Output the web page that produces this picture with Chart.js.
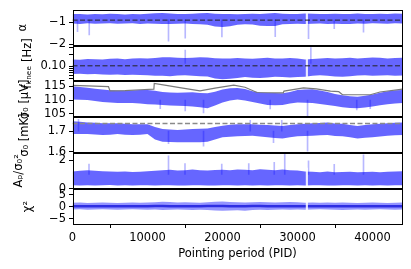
<!DOCTYPE html>
<html><head><meta charset="utf-8">
<script src="https://cdn.jsdelivr.net/npm/chart.js@4.4.1/dist/chart.umd.min.js"></script>
<style>html,body{margin:0;padding:0;background:#fff;}</style>
</head><body>
<canvas id="c" width="411" height="269"></canvas>
<script>
// ---------- data ----------
const pid = [0,1000,2000,3000,4000,5000,6000,7000,8000,9000,10000,11000,12000,13000,14000,15000,16000,17000,18000,19000,20000,21000,22000,23000,24000,25000,26000,27000,28000,29000,30000,31000,32000,33000,34000,35000,36000,37000,38000,39000,40000,41000,42000,43000,44000];
const xMax = 44000;
const xTicks = [0,10000,20000,30000,40000];

// alpha
const alphaHi = [-0.64,-0.63,-0.66,-0.63,-0.65,-0.62,-0.64,-0.66,-0.63,-0.65,-0.62,-0.60,-0.59,-0.61,-0.63,-0.64,-0.62,-0.60,-0.59,-0.62,-0.64,-0.63,-0.65,-0.63,-0.62,-0.64,-0.61,-0.59,-0.62,-0.64,-0.63,-0.61,-0.62,-0.64,-0.63,-0.62,-0.64,-0.63,-0.61,-0.63,-0.64,-0.62,-0.63,-0.61,-0.62];
const alphaLo = [-1.06,-1.08,-1.05,-1.07,-1.06,-1.05,-1.07,-1.06,-1.05,-1.08,-1.06,-1.07,-1.09,-1.08,-1.07,-1.06,-1.08,-1.10,-1.12,-1.20,-1.22,-1.19,-1.12,-1.10,-1.11,-1.16,-1.18,-1.17,-1.10,-1.08,-1.07,-1.09,-1.07,-1.06,-1.08,-1.07,-1.09,-1.08,-1.06,-1.07,-1.05,-1.06,-1.07,-1.05,-1.06];
const alphaSpikes = [[670,-1.43],[2230,-1.58],[12800,-1.86],[15030,-1.72],[19920,-1.67],[27030,-1.66],[31470,-1.74],[34900,-1.29],[38800,-1.45]];
const alphaSpikeBase = -0.9;
const alphaRef = -0.91;
const alphaTicks = [-1,-2];

// f_knee
const fkHi = [0.150,0.148,0.155,0.152,0.150,0.156,0.158,0.153,0.160,0.162,0.158,0.163,0.170,0.172,0.165,0.163,0.166,0.172,0.168,0.162,0.160,0.158,0.163,0.160,0.157,0.162,0.165,0.160,0.158,0.163,0.160,0.150,0.155,0.160,0.163,0.158,0.162,0.165,0.160,0.163,0.168,0.165,0.160,0.163,0.166];
const fkLo = [0.065,0.066,0.064,0.065,0.063,0.062,0.063,0.061,0.062,0.061,0.060,0.058,0.058,0.057,0.059,0.060,0.058,0.057,0.056,0.050,0.048,0.049,0.051,0.054,0.052,0.051,0.053,0.055,0.054,0.053,0.054,0.055,0.058,0.060,0.058,0.056,0.055,0.057,0.059,0.060,0.058,0.059,0.060,0.058,0.059];
const fkSpikes = [[15030,0.26],[31780,0.30]];
const fkSpikeBase = 0.12;
const fkRef = 0.104;
const fkTicks = [0.1];
const fkMinor = [0.05,0.06,0.07,0.08,0.09,0.2,0.3];

// sigma0 [uV]
const uvHi = [115.0,114.7,114.4,114.1,113.8,113.5,113.4,113.4,113.5,113.6,113.6,113.3,112.9,112.7,112.6,112.7,112.8,112.5,112.4,113.0,113.8,114.2,114.3,114.0,113.2,112.8,112.6,112.5,112.4,112.9,113.6,113.8,113.9,113.4,112.9,112.2,111.7,111.4,111.2,111.5,112.0,112.6,113.2,113.5,113.6];
const uvLo = [110.2,110.1,110.0,109.6,109.3,109.1,108.9,108.9,108.9,108.7,108.5,108.4,108.2,108.0,107.9,107.8,107.7,107.4,107.0,108.0,109.1,109.8,110.2,109.8,109.3,108.7,108.2,108.1,108.2,108.7,109.1,109.0,108.9,108.6,108.2,107.8,107.4,107.1,107.0,107.3,107.7,108.1,108.5,108.7,108.9];
const uvGrayPid = [0,2000,4800,5000,7000,9000,10850,10900,12500,14500,17000,19000,21500,23000,24600,28100,28200,30800,32500,34400,35500,36000,39700,41000,44000];
const uvGrayVal = [115.3,115.1,114.8,113.3,113.4,113.7,113.9,116.0,115.3,114.4,113.3,114.3,115.4,114.6,112.7,112.6,113.2,114.4,114.0,113.2,113.0,111.9,111.9,112.9,113.9];
const uvSpikes = [[11700,106.9],[15030,106.1],[17470,105.3],[26360,106.8],[31340,104.3],[37900,106.4],[39700,106.9]];
const uvSpikeBase = 110;
const uvTicks = [115,110,105];

// sigma0 [mK]
const mkHi = [1.748,1.745,1.741,1.740,1.738,1.738,1.738,1.736,1.733,1.733,1.733,1.720,1.710,1.708,1.706,1.708,1.710,1.711,1.713,1.720,1.726,1.731,1.733,1.733,1.733,1.731,1.730,1.727,1.725,1.729,1.733,1.736,1.738,1.739,1.741,1.737,1.735,1.730,1.725,1.730,1.733,1.736,1.738,1.740,1.741];
const mkLo = [1.686,1.686,1.686,1.684,1.681,1.683,1.686,1.683,1.681,1.683,1.686,1.660,1.649,1.648,1.646,1.646,1.646,1.647,1.649,1.660,1.670,1.673,1.675,1.676,1.678,1.674,1.670,1.667,1.665,1.670,1.675,1.676,1.678,1.680,1.681,1.677,1.675,1.670,1.665,1.668,1.670,1.674,1.678,1.680,1.681];
const mkSpikes = [[800,1.757],[12800,1.640],[17470,1.628],[23700,1.752],[26800,1.645],[27900,1.752],[31340,1.604]];
const mkSpikeBase = 1.70;
const mkRef = 1.737;
const mkTicks = [1.7,1.6];

// A_p / sigma0^2
const apHi = [1.20,1.25,1.30,1.26,1.22,1.20,1.18,1.20,1.17,1.19,1.22,1.26,1.30,1.32,1.28,1.30,1.34,1.30,1.27,1.31,1.33,1.30,1.35,1.32,1.30,1.36,1.33,1.30,1.34,1.30,1.27,1.20,1.18,1.16,1.20,1.15,1.17,1.18,1.15,1.17,1.19,1.16,1.18,1.20,1.22];
const apLo = [0.24,0.22,0.25,0.23,0.24,0.26,0.23,0.24,0.22,0.25,0.24,0.23,0.25,0.24,0.22,0.23,0.25,0.24,0.23,0.22,0.24,0.25,0.23,0.24,0.22,0.24,0.23,0.25,0.24,0.22,0.24,0.23,0.25,0.24,0.23,0.22,0.24,0.25,0.23,0.24,0.22,0.24,0.23,0.25,0.24];
const apSpikes = [[2200,1.72],[12800,2.30],[15000,1.75],[19900,1.72],[23500,1.75],[26900,1.85],[28300,2.45],[31470,1.95],[34900,1.70],[38800,2.37]];
const apSpikeBase = 1.0;
const apTicks = [0,2];

// chi^2
const chiHi = [1.7,1.8,1.6,1.7,1.8,1.7,1.6,1.7,1.8,1.7,1.8,1.9,2.1,2.0,1.8,1.9,1.8,1.7,1.9,2.1,2.2,2.0,1.9,1.8,1.9,2.0,1.9,1.8,1.9,2.0,1.9,1.7,1.8,1.7,1.8,1.7,1.8,1.7,1.6,1.7,1.8,1.7,1.6,1.7,1.8];
const chiLo = [-1.1,-1.0,-1.2,-1.1,-1.0,-1.1,-1.2,-1.1,-1.0,-1.1,-1.2,-1.1,-1.3,-1.2,-1.1,-1.2,-1.3,-1.2,-1.3,-1.5,-1.6,-1.5,-1.4,-1.6,-1.3,-1.2,-1.3,-1.2,-1.1,-1.2,-1.1,-1.2,-1.1,-1.0,-1.1,-1.2,-1.3,-1.2,-1.1,-1.2,-1.1,-1.0,-1.1,-1.2,-1.1];
const chiMid = [0.3,0.3,0.25,0.3,0.3,0.3,0.25,0.3,0.3,0.3,0.3,0.35,0.35,0.3,0.3,0.3,0.3,0.3,0.35,0.35,0.35,0.3,0.3,0.3,0.35,0.35,0.3,0.3,0.3,0.3,0.3,0.25,0.3,0.3,0.3,0.3,0.25,0.3,0.3,0.3,0.3,0.3,0.25,0.3,0.3];
const chiTicks = [5,0,-5];

// data gaps (missing PIDs)
const gapPid = 31250;
const gaps = {alpha:[-1.1,-0.58], fk:[0.045,0.19], ap:[0.18,1.45], chi:[-1.8,2.4]};

// ---------- chart ----------
const BLUE = 'rgba(0,0,255,0.6)';
const SPIKE = 'rgba(0,0,255,0.28)';
const FS = 11.5;
Chart.defaults.font.family = 'DejaVu Sans';
Chart.defaults.font.size = FS;
Chart.defaults.color = '#000';

const ds = [];
function band(yid, hi, lo, color, order) {
  const loIdx = ds.length;
  ds.push({type:'line', yAxisID:yid, data: pid.map((x,i)=>({x, y: lo[i]})), borderWidth:0, borderColor:'transparent', pointRadius:0, fill:false, order});
  ds.push({type:'line', yAxisID:yid, data: pid.map((x,i)=>({x, y: hi[i]})), borderWidth:0, borderColor:'transparent', pointRadius:0, fill:{target: loIdx}, backgroundColor: color, order});
}
function spikes(yid, arr, base, color, order) {
  ds.push({type:'bar', yAxisID:yid, data: arr.map(([x,v])=>({x, y:[base, v]})), backgroundColor: color, barThickness: 1, grouped:false, order});
}
function gap(yid, range) {
  ds.push({type:'bar', yAxisID:yid, data:[{x:gapPid, y:range}], backgroundColor:'rgba(255,255,255,0.85)', barThickness:1.5, grouped:false, order:3});
}
function hline(yid, v, color, dash, width) {
  ds.push({type:'line', yAxisID:yid, data:[{x:0,y:v},{x:xMax,y:v}], borderColor:color, borderDash:dash, borderWidth:width, pointRadius:0, fill:false, order:1});
}

band('yA', alphaHi, alphaLo, BLUE, 10);
spikes('yA', alphaSpikes, alphaSpikeBase, SPIKE, 8);
gap('yA', gaps.alpha);
hline('yA', alphaRef, '#222', [5,2.5], 1);

band('yF', fkHi, fkLo, BLUE, 10);
spikes('yF', fkSpikes, fkSpikeBase, SPIKE, 8);
gap('yF', gaps.fk);
hline('yF', fkRef, '#222', [5,2.5], 1);

band('yU', uvHi, uvLo, BLUE, 10);
spikes('yU', uvSpikes, uvSpikeBase, SPIKE, 8);
ds.push({type:'line', yAxisID:'yU', data: uvGrayPid.map((x,i)=>({x, y: uvGrayVal[i]})), borderColor:'#7a7a7a', borderWidth:1.2, pointRadius:0, fill:false, order:1});

band('yM', mkHi, mkLo, BLUE, 10);
spikes('yM', mkSpikes, mkSpikeBase, SPIKE, 8);
hline('yM', mkRef, '#8a8a8a', [5,2.5], 1.5);

band('yP', apHi, apLo, BLUE, 10);
spikes('yP', apSpikes, apSpikeBase, SPIKE, 8);
gap('yP', gaps.ap);

band('yC', chiHi, chiLo, 'rgba(0,0,255,0.42)', 10);
ds.push({type:'line', yAxisID:'yC', data: pid.map((x,i)=>({x, y: chiMid[i]})), borderColor:'rgba(20,20,220,0.8)', borderWidth:2.5, pointRadius:0, fill:false, order:6});
gap('yC', gaps.chi);

const Y_W = 72.5;
const minus = v => (v < 0 ? '\u2212' + Math.abs(v) : String(v));
function yScale(weight, min, max, ticks, title, pad, fmt, extra) {
  return Object.assign({
    type:'linear', position:'left', stack:'panels', stackWeight:1, weight, offset:false,
    min, max,
    grid:{drawOnChartArea:false, drawTicks:true, tickLength:3.5, tickColor:'#000', color:'#000', tickWidth:1},
    border:{display:false},
    ticks:{autoSkip:false, color:'#000', padding:3, font:{size:FS}, maxRotation:0, callback: fmt},
    title:{display:true, text:title, color:'#000', font:{size:FS}, padding:{top:pad, bottom:0}},
    afterBuildTicks: s => { s.ticks = ticks.map(v => ({value:v})); },
    afterFit: s => { s.width = Y_W; }
  }, extra || {});
}

const scales = {
  x: {
    type:'linear', position:'bottom', min:0, max:xMax, offset:false,
    grid:{drawOnChartArea:false, drawTicks:true, tickLength:3.5, tickColor:'#000'},
    border:{display:false},
    ticks:{autoSkip:false, maxRotation:0, color:'#000', padding:3.5, font:{size:FS}, callback: v => String(v)},
    title:{display:true, text:'Pointing period (PID)', color:'#000', font:{size:FS}, padding:{top:0, bottom:8.5}},
    afterBuildTicks: s => { s.ticks = xTicks.map(v => ({value:v})); },
    afterFit: s => { s.height = 44.5; }
  },
  yA: yScale(6, -2.06, -0.45, alphaTicks, '\u03b1', 16, v => minus(v)),
  yF: yScale(5, 0.042, 0.335, fkTicks.concat(fkMinor), 'f\u2096\u2099\u2091\u2091 [Hz]', 21, v => (v === 0.1 ? '0.10' : ''), {type:'logarithmic'}),
  yU: yScale(4, 103.8, 116.7, uvTicks, '\u03c3\u2080 [\u03bcV]', 18, v => String(v)),
  yM: yScale(3, 1.595, 1.767, mkTicks, '\u03c3\u2080 [mK]', 18, v => v.toFixed(1)),
  yP: yScale(2, 0, 2.5, apTicks, 'A\u209a/\u03c3\u2080\u00b2', 12, v => String(v)),
  yC: yScale(1, -7.4, 7.6, chiTicks, '\u03c7\u00b2', 21, v => minus(v))
};
const yIds = ['yA','yF','yU','yM','yP','yC'];

const frame = {
  id:'frame',
  afterDraw(chart) {
    const ctx = chart.ctx, a = chart.chartArea;
    const L = Math.round(a.left) + 0.5, R = Math.round(a.right) - 0.5;
    ctx.save();
    ctx.strokeStyle = '#000'; ctx.lineWidth = 1;
    for (const id of yIds) {
      const s = chart.scales[id];
      const T = Math.round(s.top) + 0.5, B = Math.round(s.bottom) - 0.5;
      ctx.strokeRect(L, T, R - L, B - T);
    }
    ctx.restore();
  }
};

new Chart(document.getElementById('c'), {
  type:'line',
  data:{datasets: ds},
  options:{
    responsive:false, animation:false, events:[],
    layout:{padding:{left:0, right:8.5, top:8, bottom:0}},
    plugins:{legend:{display:false}, tooltip:{enabled:false}},
    scales
  },
  plugins:[frame]
});
</script>
</body></html>
